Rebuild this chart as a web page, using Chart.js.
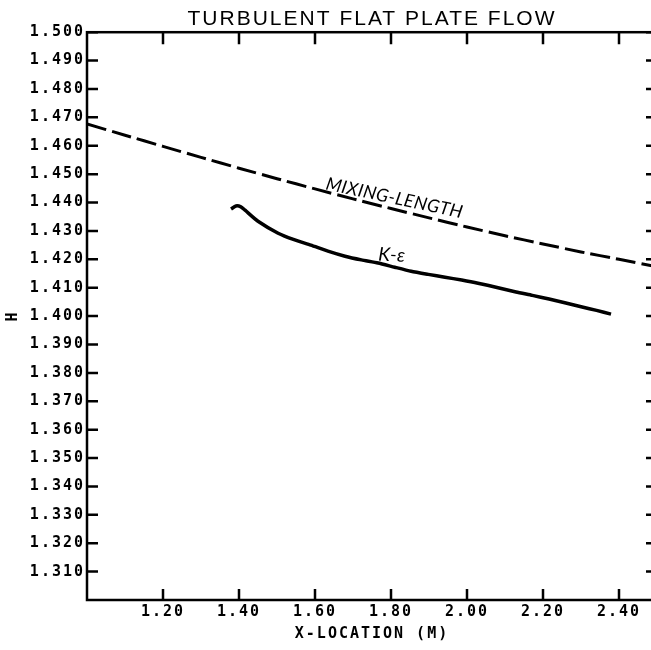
<!DOCTYPE html>
<html>
<head>
<meta charset="utf-8">
<script src="https://cdn.jsdelivr.net/npm/chart.js@4/dist/chart.umd.min.js"></script>
<style>
html,body{margin:0;padding:0;background:#fff;overflow:hidden;}
#wrap{width:660px;height:650px;}
</style>
</head>
<body>
<div id="wrap"><canvas id="c" width="660" height="650"></canvas></div>
<script>
const chartTitle = 'TURBULENT FLAT PLATE FLOW';
const xAxisTitle = 'X-LOCATION (M)';
const yAxisTitle = 'H';
const seriesNames = ['MIXING-LENGTH', 'K-ε'];

const xRange = [1.0, 2.5];
const yRange = [1.3, 1.5];
const xTickValues = [1.2, 1.4, 1.6, 1.8, 2.0, 2.2, 2.4];
const xTickLabels = ['1.20', '1.40', '1.60', '1.80', '2.00', '2.20', '2.40'];
const yTickValues = [1.31, 1.32, 1.33, 1.34, 1.35, 1.36, 1.37, 1.38, 1.39, 1.40,
                     1.41, 1.42, 1.43, 1.44, 1.45, 1.46, 1.47, 1.48, 1.49, 1.50];
const yTickLabels = ['1.310', '1.320', '1.330', '1.340', '1.350', '1.360', '1.370', '1.380', '1.390', '1.400',
                     '1.410', '1.420', '1.430', '1.440', '1.450', '1.460', '1.470', '1.480', '1.490', '1.500'];

const mixingX = [1.0, 1.1, 1.2, 1.3, 1.4, 1.5, 1.6, 1.7, 1.8, 1.9, 2.0, 2.1, 2.2, 2.3, 2.4, 2.5];
const mixingH = [1.4677, 1.4637, 1.4598, 1.4559, 1.4521, 1.4484, 1.4448, 1.4413, 1.4379, 1.4346,
                 1.4314, 1.4283, 1.4254, 1.4226, 1.4200, 1.4174];

const keX = [1.379, 1.392, 1.405, 1.416, 1.450, 1.503, 1.545, 1.589, 1.634, 1.679, 1.722, 1.766, 1.810,
             1.853, 1.898, 1.942, 1.986, 2.029, 2.079, 2.129, 2.172, 2.216, 2.260, 2.303, 2.341, 2.379];
const keH = [1.4377, 1.4388, 1.4385, 1.4373, 1.4334, 1.4292, 1.4269, 1.4250, 1.4229, 1.4211, 1.4198, 1.4187, 1.4172,
             1.4158, 1.4147, 1.4137, 1.4127, 1.4116, 1.4101, 1.4085, 1.4073, 1.4060, 1.4046, 1.4032, 1.4020, 1.4007];

const tickFont = {family: "'DejaVu Sans Mono', monospace", size: 15, weight: 'bold'};

const spacingPlugin = {
  id: 'spacing',
  beforeUpdate(chart) { chart.ctx.letterSpacing = '2px'; },
  beforeDraw(chart) { chart.ctx.letterSpacing = '2px'; }
};

const framePlugin = {
  id: 'frame',
  afterDatasetsDraw(chart) {
    const {ctx, chartArea: a, scales: {x, y}} = chart;
    ctx.save();
    ctx.strokeStyle = '#000';
    ctx.lineWidth = 2.5;
    ctx.beginPath();
    y.ticks.forEach(t => {
      const py = y.getPixelForValue(t.value);
      ctx.moveTo(a.left, py); ctx.lineTo(a.left + 11, py);
      ctx.moveTo(a.right, py); ctx.lineTo(a.right - 11, py);
    });
    x.ticks.forEach(t => {
      const px = x.getPixelForValue(t.value);
      ctx.moveTo(px, a.bottom); ctx.lineTo(px, a.bottom - 11);
      ctx.moveTo(px, a.top); ctx.lineTo(px, a.top + 12);
    });
    ctx.stroke();
    ctx.strokeRect(a.left, a.top, a.right - a.left, a.bottom - a.top);

    const drawLabel = (text, xv, yv, angle, font) => {
      const px = x.getPixelForValue(xv), py = y.getPixelForValue(yv);
      ctx.save();
      ctx.letterSpacing = '0.5px';
      ctx.translate(px, py);
      ctx.rotate(angle * Math.PI / 180);
      ctx.font = font;
      ctx.fillStyle = '#000';
      ctx.textAlign = 'left';
      ctx.textBaseline = 'alphabetic';
      ctx.fillText(text, 0, 0);
      ctx.restore();
    };
    drawLabel(seriesNames[0], 1.626, 1.4447, 12, "italic 18px Lato, 'DejaVu Sans', sans-serif");
    drawLabel(seriesNames[1], 1.766, 1.4196, 3, "italic 19px Lato, 'DejaVu Sans', sans-serif");
    ctx.restore();
  }
};

new Chart(document.getElementById('c'), {
  type: 'line',
  data: {
    datasets: [
      {
        label: seriesNames[0],
        data: mixingX.map((v, i) => ({x: v, y: mixingH[i]})),
        borderColor: '#000',
        borderWidth: 3,
        borderDash: [20, 6],
        pointRadius: 0,
        tension: 0.2,
        fill: false
      },
      {
        label: seriesNames[1],
        data: keX.map((v, i) => ({x: v, y: keH[i]})),
        borderColor: '#000',
        borderWidth: 3.5,
        pointRadius: 0,
        tension: 0.2,
        fill: false
      }
    ]
  },
  options: {
    responsive: false,
    animation: false,
    devicePixelRatio: 1,
    layout: {padding: {left: 0, right: 3, top: 0, bottom: 0}},
    plugins: {
      legend: {display: false},
      tooltip: {enabled: false},
      title: {
        display: true,
        text: chartTitle,
        fullSize: false,
        color: '#000',
        font: {family: "'Liberation Sans', Arial, sans-serif", size: 21, weight: 'normal'},
        padding: {top: 7, bottom: 0}
      }
    },
    scales: {
      x: {
        type: 'linear',
        min: xRange[0],
        max: xRange[1],
        afterBuildTicks(scale) { scale.ticks = xTickValues.map(v => ({value: v})); },
        afterFit(scale) { scale.height = 50; },
        grid: {display: false, drawTicks: false},
        border: {display: false},
        ticks: {
          autoSkip: false,
          maxRotation: 0,
          padding: 3,
          color: '#000',
          font: tickFont,
          callback: (v, i) => xTickLabels[i]
        },
        title: {
          display: true,
          text: xAxisTitle,
          color: '#000',
          font: tickFont,
          padding: {top: 0, bottom: 7}
        }
      },
      y: {
        type: 'linear',
        min: yRange[0],
        max: yRange[1],
        afterBuildTicks(scale) { scale.ticks = yTickValues.map(v => ({value: v})); },
        afterFit(scale) { scale.width = 87; },
        grid: {display: false, drawTicks: false},
        border: {display: false},
        ticks: {
          autoSkip: false,
          padding: 2,
          color: '#000',
          font: tickFont,
          callback: (v, i) => yTickLabels[i]
        },
        title: {
          display: true,
          text: yAxisTitle,
          color: '#000',
          font: tickFont,
          padding: {top: 4, bottom: 0}
        }
      }
    }
  },
  plugins: [spacingPlugin, framePlugin]
});
</script>
</body>
</html>
